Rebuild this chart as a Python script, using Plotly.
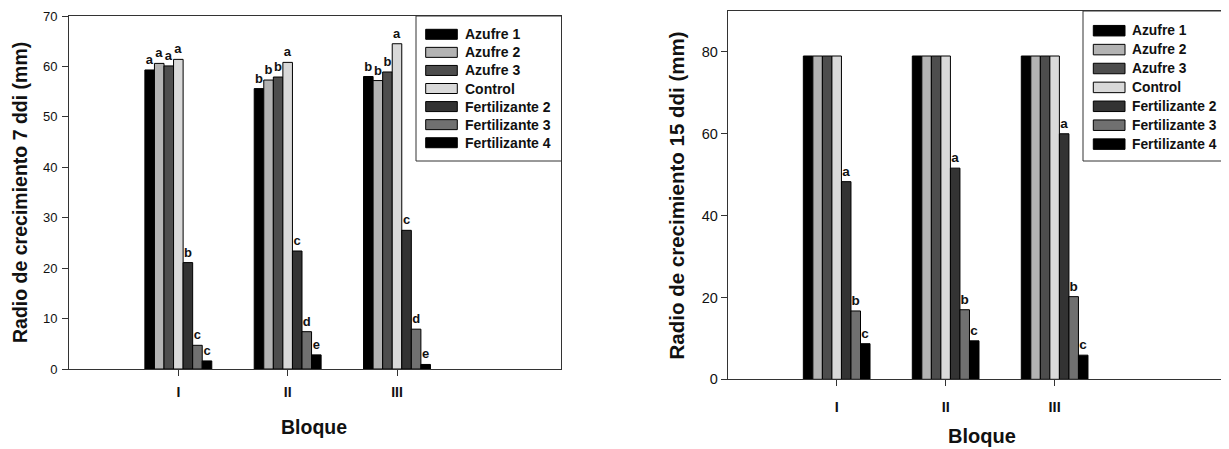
import plotly.graph_objects as go

# The page body has the browser's default 8px margin, so the figure is sized
# to fit the 1229x449 window exactly and all layout pixel positions below are
# given in window coordinates and converted.
WIN_W, WIN_H = 1229, 449
OFF = 8
W, H = WIN_W - OFF, WIN_H - OFF

# ---------------- data ----------------
bloques = ["I", "II", "III"]
series = ["Azufre 1", "Azufre 2", "Azufre 3", "Control",
          "Fertilizante 2", "Fertilizante 3", "Fertilizante 4"]
colors = ["#000000", "#b3b3b3", "#4d4d4d", "#d9d9d9", "#333333", "#707070", "#000000"]

# Radio de crecimiento 7 ddi (mm)
azufre1_7 = [59.3, 55.6, 58.0]
azufre2_7 = [60.6, 57.3, 57.2]
azufre3_7 = [60.1, 57.9, 58.9]
control_7 = [61.4, 60.8, 64.5]
fert2_7 = [21.1, 23.4, 27.5]
fert3_7 = [4.7, 7.4, 7.9]
fert4_7 = [1.6, 2.8, 0.9]
letters_7 = [["a", "b", "b"], ["a", "b", "b"], ["a", "b", "b"], ["a", "a", "a"],
             ["b", "c", "c"], ["c", "d", "d"], ["c", "e", "e"]]

# Radio de crecimiento 15 ddi (mm)
azufre1_15 = [79.0, 79.0, 79.0]
azufre2_15 = [79.0, 79.0, 79.0]
azufre3_15 = [79.0, 79.0, 79.0]
control_15 = [79.0, 79.0, 79.0]
fert2_15 = [48.3, 51.6, 60.0]
fert3_15 = [16.7, 17.0, 20.2]
fert4_15 = [8.7, 9.4, 5.9]
letters_15 = [["", "", ""], ["", "", ""], ["", "", ""], ["", "", ""],
              ["a", "a", "a"], ["b", "b", "b"], ["c", "c", "c"]]

values_7 = [azufre1_7, azufre2_7, azufre3_7, control_7, fert2_7, fert3_7, fert4_7]
values_15 = [azufre1_15, azufre2_15, azufre3_15, control_15, fert2_15, fert3_15, fert4_15]

FONT = "Liberation Sans, Arial, sans-serif"
INK = "#111111"
LINE = "#333333"


def px(x):
    return min(1.0, max(0.0, (x - OFF) / W))


def py(y):
    return min(1.0, max(0.0, 1 - (y - OFF) / H))


fig = go.Figure()

for i, name in enumerate(series):
    fig.add_trace(go.Bar(
        x=bloques, y=values_7[i], name=name, xaxis="x", yaxis="y",
        marker=dict(color=colors[i], line=dict(color="#000000", width=1)),
        text=letters_7[i], textposition="outside", constraintext="none",
        textfont=dict(family=FONT, size=13, color=INK, weight="bold"),
        cliponaxis=False, showlegend=False, offsetgroup=str(i)))
    fig.add_trace(go.Bar(
        x=bloques, y=values_15[i], name=name, xaxis="x2", yaxis="y2",
        marker=dict(color=colors[i], line=dict(color="#000000", width=1)),
        text=letters_15[i], textposition="outside", constraintext="none",
        textfont=dict(family=FONT, size=13.5, color=INK, weight="bold"),
        cliponaxis=False, showlegend=False, offsetgroup=str(i)))

axis_common = dict(showline=True, linecolor=LINE, linewidth=1, mirror=True,
                   ticks="outside", tickcolor=LINE, ticklen=6, tickwidth=1,
                   showgrid=False, zeroline=False, automargin=False)

fig.update_layout(
    width=W, height=H,
    margin=dict(l=0, r=0, t=0, b=0),
    paper_bgcolor="white", plot_bgcolor="white",
    font=dict(family=FONT, color=INK),
    barmode="group", bargap=0.388, bargroupgap=0,
    showlegend=False,
    xaxis=dict(domain=[px(69), px(561)], anchor="y", type="category",
               range=[-1, 3.5], tickfont=dict(size=14, weight="bold"),
               ticklabelstandoff=4, **axis_common),
    yaxis=dict(domain=[py(369), py(16)], anchor="x", range=[0, 70], dtick=10,
               tickfont=dict(size=13), ticklabelstandoff=2, **axis_common),
    xaxis2=dict(domain=[px(727.7), 1.0], anchor="y2", type="category",
                range=[-1, 3.6], tickfont=dict(size=14.5, weight="bold"),
                ticklabelstandoff=8, **axis_common),
    yaxis2=dict(domain=[py(379.3), py(11)], anchor="x2", range=[0, 90],
                tickvals=[0, 20, 40, 60, 80], tickfont=dict(size=14.5), **axis_common),
)

annotations = [
    dict(text="<b>Radio de crecimiento 7 ddi (mm)</b>", x=px(19.5), y=py(192.5),
         textangle=-90, font=dict(size=19.5)),
    dict(text="<b>Bloque</b>", x=px(314), y=py(427), font=dict(size=19.5)),
    dict(text="<b>Radio de crecimiento 15 ddi (mm)</b>", x=px(676.5), y=py(195),
         textangle=-90, font=dict(size=20.5)),
    dict(text="<b>Bloque</b>", x=px(982), y=py(436), font=dict(size=20)),
]
for a in annotations:
    a.update(xref="paper", yref="paper", xanchor="center", yanchor="middle",
             showarrow=False)

shapes = []


def add_legend(x0, y0, x1, y1, sw0, sw1, first, step, tx, size, swh):
    shapes.append(dict(type="rect", xref="paper", yref="paper",
                       x0=px(x0), x1=px(x1), y0=py(y1), y1=py(y0),
                       line=dict(color=LINE, width=1), fillcolor="white", layer="above"))
    for i, name in enumerate(series):
        yc = first + i * step
        shapes.append(dict(type="rect", xref="paper", yref="paper",
                           x0=px(sw0), x1=px(sw1), y0=py(yc + swh / 2), y1=py(yc - swh / 2),
                           line=dict(color="#000000", width=1), fillcolor=colors[i],
                           layer="above"))
        annotations.append(dict(text="<b>%s</b>" % name, x=px(tx), y=py(yc),
                                xref="paper", yref="paper", xanchor="left",
                                yanchor="middle", showarrow=False,
                                font=dict(size=size, color=INK)))


add_legend(416, 16, 561.5, 161, 425.7, 457.3, 34.3, 18.07, 463, 14, 10)
add_legend(1083, 11, 1240, 161, 1093.3, 1125, 30.7, 18.9, 1130, 13.8, 10.5)

fig.update_layout(annotations=annotations, shapes=shapes)

fig.write_html("out.html")
